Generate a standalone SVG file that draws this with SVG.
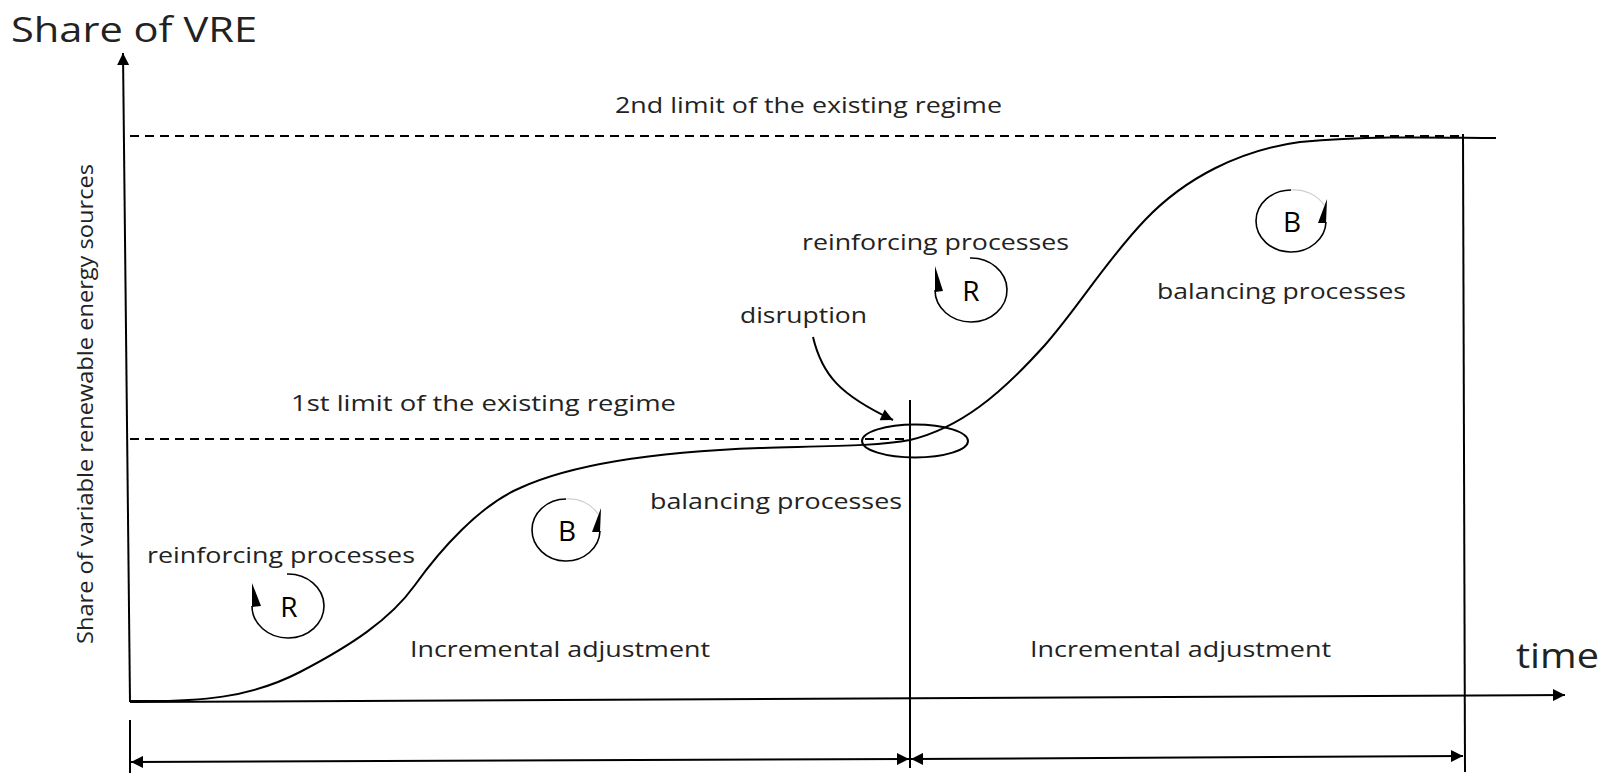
<svg xmlns="http://www.w3.org/2000/svg" width="1612" height="774" viewBox="0 0 1612 774">
<style>
text{font-family:"Open Sans","Liberation Sans",sans-serif;fill:#222}
.ln{stroke:#000;stroke-width:2;fill:none}
.dash{stroke:#000;stroke-width:2;fill:none;stroke-dasharray:9,6}
.lbl{font-size:22px}
.loop{stroke:#000;stroke-width:1.6;fill:none}
.faint{stroke:#cfcfcf;stroke-width:1.2;fill:none}
.letter{font-size:28px;text-anchor:middle;fill:#000}
</style>
<defs>
<marker id="ahb" viewBox="0 0 10 10" refX="10" refY="5" markerWidth="14" markerHeight="12" markerUnits="userSpaceOnUse" orient="auto-start-reverse">
<path d="M0,0 L10,5 L0,10 z" fill="#000"/>
</marker>
</defs>

<g id="titles">
<text x="11" y="42" style="font-size:34px" textLength="246" lengthAdjust="spacingAndGlyphs">Share of VRE</text>
<text transform="translate(93,404) rotate(-90)" text-anchor="middle" style="font-size:22px" textLength="480" lengthAdjust="spacingAndGlyphs">Share of variable renewable energy sources</text>
<text x="1516" y="668" style="font-size:34px" textLength="83" lengthAdjust="spacingAndGlyphs">time</text>
</g>

<g id="connectors">
<line class="ln" x1="130" y1="702" x2="123" y2="53" marker-end="url(#ahb)"/>
<line class="ln" x1="130" y1="702" x2="1565" y2="695" marker-end="url(#ahb)"/>
<line class="dash" x1="130" y1="136" x2="1463" y2="136"/>
<line class="dash" x1="130" y1="439" x2="908" y2="439"/>
<line class="ln" x1="910" y1="400" x2="910" y2="768"/>
<line class="ln" x1="1463" y1="134" x2="1465" y2="772"/>
<line class="ln" x1="130" y1="720" x2="130" y2="773"/>
<line class="ln" x1="131" y1="762" x2="909" y2="759" marker-start="url(#ahb)" marker-end="url(#ahb)"/>
<line class="ln" x1="911" y1="759" x2="1463" y2="756" marker-start="url(#ahb)" marker-end="url(#ahb)"/>
<path class="ln" d="M131,701 C200,702 250,698 300,672 C350,646 390,620 415,585 C440,550 480,505 520,488 C570,465 650,452 760,448 C830,446 880,446 910,440 C960,428 1000,395 1045,345 C1080,305 1105,262 1145,220 C1185,178 1240,150 1300,142 C1380,135 1450,138 1496,138"/>
<path class="ln" d="M813,337 C822,375 840,395 893,420" marker-end="url(#ahb)"/>
</g>

<g id="disruption">
<ellipse class="ln" cx="915" cy="441" rx="53" ry="16.5"/>
<text class="lbl" x="740" y="323" textLength="127" lengthAdjust="spacingAndGlyphs">disruption</text>
</g>

<g id="limit2">
<text class="lbl" x="615" y="113" textLength="387" lengthAdjust="spacingAndGlyphs">2nd limit of the existing regime</text>
</g>
<g id="limit1">
<text class="lbl" x="291" y="411" textLength="385" lengthAdjust="spacingAndGlyphs">1st limit of the existing regime</text>
</g>

<g id="loopR1">
<text class="lbl" x="147" y="563" textLength="268" lengthAdjust="spacingAndGlyphs">reinforcing processes</text>
<path class="loop" d="M287,574 A36,32 0 1,1 252,606"/>
<polygon points="252,583 252,607 261,606" fill="#000"/>
<text class="letter" x="289" y="617">R</text>
</g>

<g id="loopB1">
<text class="lbl" x="650" y="509" textLength="252" lengthAdjust="spacingAndGlyphs">balancing processes</text>
<path class="faint" d="M566,499 A34,31 0 0,1 598,514"/>
<path class="loop" d="M566,499 A34,31 0 1,0 600,531"/>
<polygon points="601,508 592,532 600,532" fill="#000"/>
<text class="letter" x="567" y="541">B</text>
</g>

<g id="loopR2">
<text class="lbl" x="802" y="250" textLength="267" lengthAdjust="spacingAndGlyphs">reinforcing processes</text>
<path class="loop" d="M970,258 A36,32 0 1,1 935,290"/>
<polygon points="935,266 935,292 943,291" fill="#000"/>
<text class="letter" x="971" y="301">R</text>
</g>

<g id="loopB2">
<text class="lbl" x="1157" y="299" textLength="249" lengthAdjust="spacingAndGlyphs">balancing processes</text>
<path class="faint" d="M1291,190 A35,31 0 0,1 1324,205"/>
<path class="loop" d="M1291,190 A35,31 0 1,0 1326,222"/>
<polygon points="1327,199 1318,223 1326,223" fill="#000"/>
<text class="letter" x="1292" y="232">B</text>
</g>

<g id="phase1">
<text class="lbl" x="410" y="657" textLength="300" lengthAdjust="spacingAndGlyphs">Incremental adjustment</text>
</g>
<g id="phase2">
<text class="lbl" x="1030" y="657" textLength="301" lengthAdjust="spacingAndGlyphs">Incremental adjustment</text>
</g>
</svg>
